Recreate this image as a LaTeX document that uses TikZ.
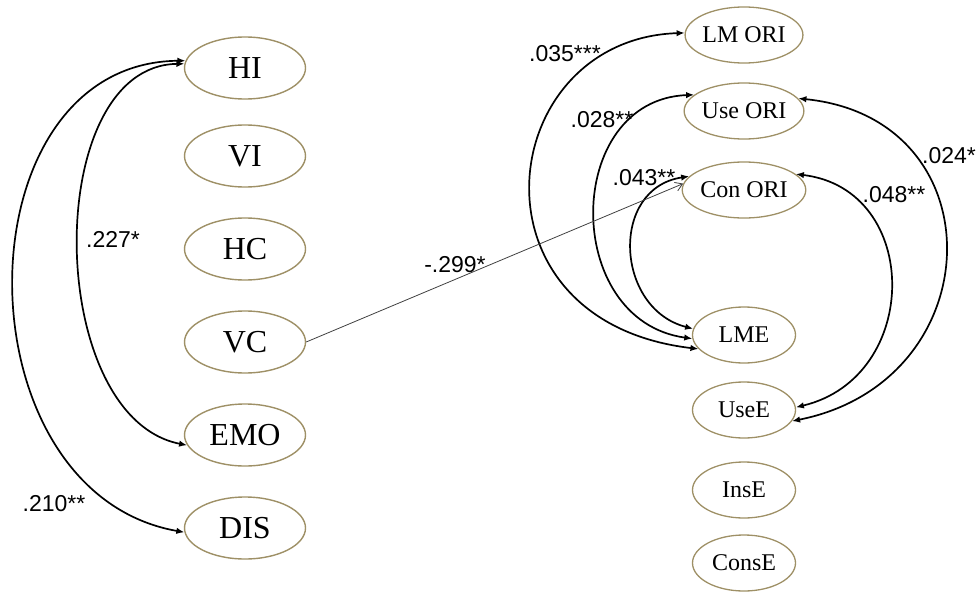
\documentclass[tikz,border=0pt]{standalone}
\usepackage{fontspec}
\setmainfont{Liberation Serif}
\newfontfamily\coeffont{Liberation Sans}
\usetikzlibrary{arrows.meta,shapes.geometric}
\definecolor{rimtan}{RGB}{158,144,102}
\begin{document}
\begin{tikzpicture}[x=1pt,y=-1pt,
  bigvar/.style={ellipse, draw=rimtan, line width=1.4pt, minimum width=121pt,
    minimum height=62pt, inner sep=0pt, font=\fontsize{32}{32}\selectfont},
  smallvar/.style={ellipse, draw=rimtan, line width=1.3pt, minimum width=103pt,
    minimum height=56pt, inner sep=0pt, font=\fontsize{24}{24}\selectfont},
  cov/.style={line width=1.7pt,
    {Latex[length=8pt,width=6.5pt]}-{Latex[length=8pt,width=6.5pt]}},
  regline/.style={draw=black!75, line width=0.8pt,
    -{Straight Barb[length=7pt,width=9pt]}},
  coef/.style={font=\coeffont\fontsize{23}{23}\selectfont, anchor=base, inner sep=0pt}]
\useasboundingbox (0,0) rectangle (979,594);

% left column of factors
\node[bigvar] (HI)  at (245,68)  {HI};
\node[bigvar] (VI)  at (245,156) {VI};
\node[bigvar] (HC)  at (245,249) {HC};
\node[bigvar] (VC)  at (245,342) {VC};
\node[bigvar] (EMO) at (245,435) {EMO};
\node[bigvar] (DIS) at (245,528) {DIS};

% right column of outcomes
\node[smallvar] (LMORI)  at (744,35)  {LM ORI};
\node[smallvar] (UseORI) at (744,111) {Use ORI};
\node[smallvar] (ConORI) at (744,190) {Con ORI};
\node[smallvar] (LME)    at (744,335) {LME};
\node[smallvar] (UseE)   at (744,410) {UseE};
\node[smallvar] (InsE)   at (744,490) {InsE};
\node[smallvar] (ConsE)  at (744,563) {ConsE};

% covariances on the left
\draw[cov] (HI.173) .. controls +(-228,2) and +(-228,-40) .. (DIS.184);
\draw[cov] (HI.176) .. controls +(-143,2) and +(-143,-28) .. (EMO.190);

% covariances on the right
\draw[cov] (LMORI.178) .. controls +(-190,6) and +(-238,-28) .. (LME.197);
\draw[cov] (UseORI.162) .. controls +(-131,5) and +(-131,-18) .. (LME.184);
\draw[cov] (ConORI.166) .. controls +(-80,12) and +(-78,-20) .. (LME.173);
\draw[cov] (UseORI.13) .. controls +(200,20) and +(200,-40) .. (UseE.347);
\draw[cov] (ConORI.17) .. controls +(126,15) and +(126,-30) .. (UseE.3);

% regression path
\draw[regline] (VC.east) -- (ConORI.174);

% coefficients
\node[coef] (c227) at (113,247) {.227*};
\node[coef] (c210) at (54,511)  {.210**};
\node[coef] (c035) at (565,62)  {.035***};
\node[coef] (c028) at (602,127) {.028**};
\node[coef] (c043) at (644,185) {.043**};
\node[coef] (c024) at (949,163) {.024*};
\node[coef] (c048) at (894,202) {.048**};
\node[coef] (c299) at (455,272) {-.299*};
\end{tikzpicture}
\end{document}
